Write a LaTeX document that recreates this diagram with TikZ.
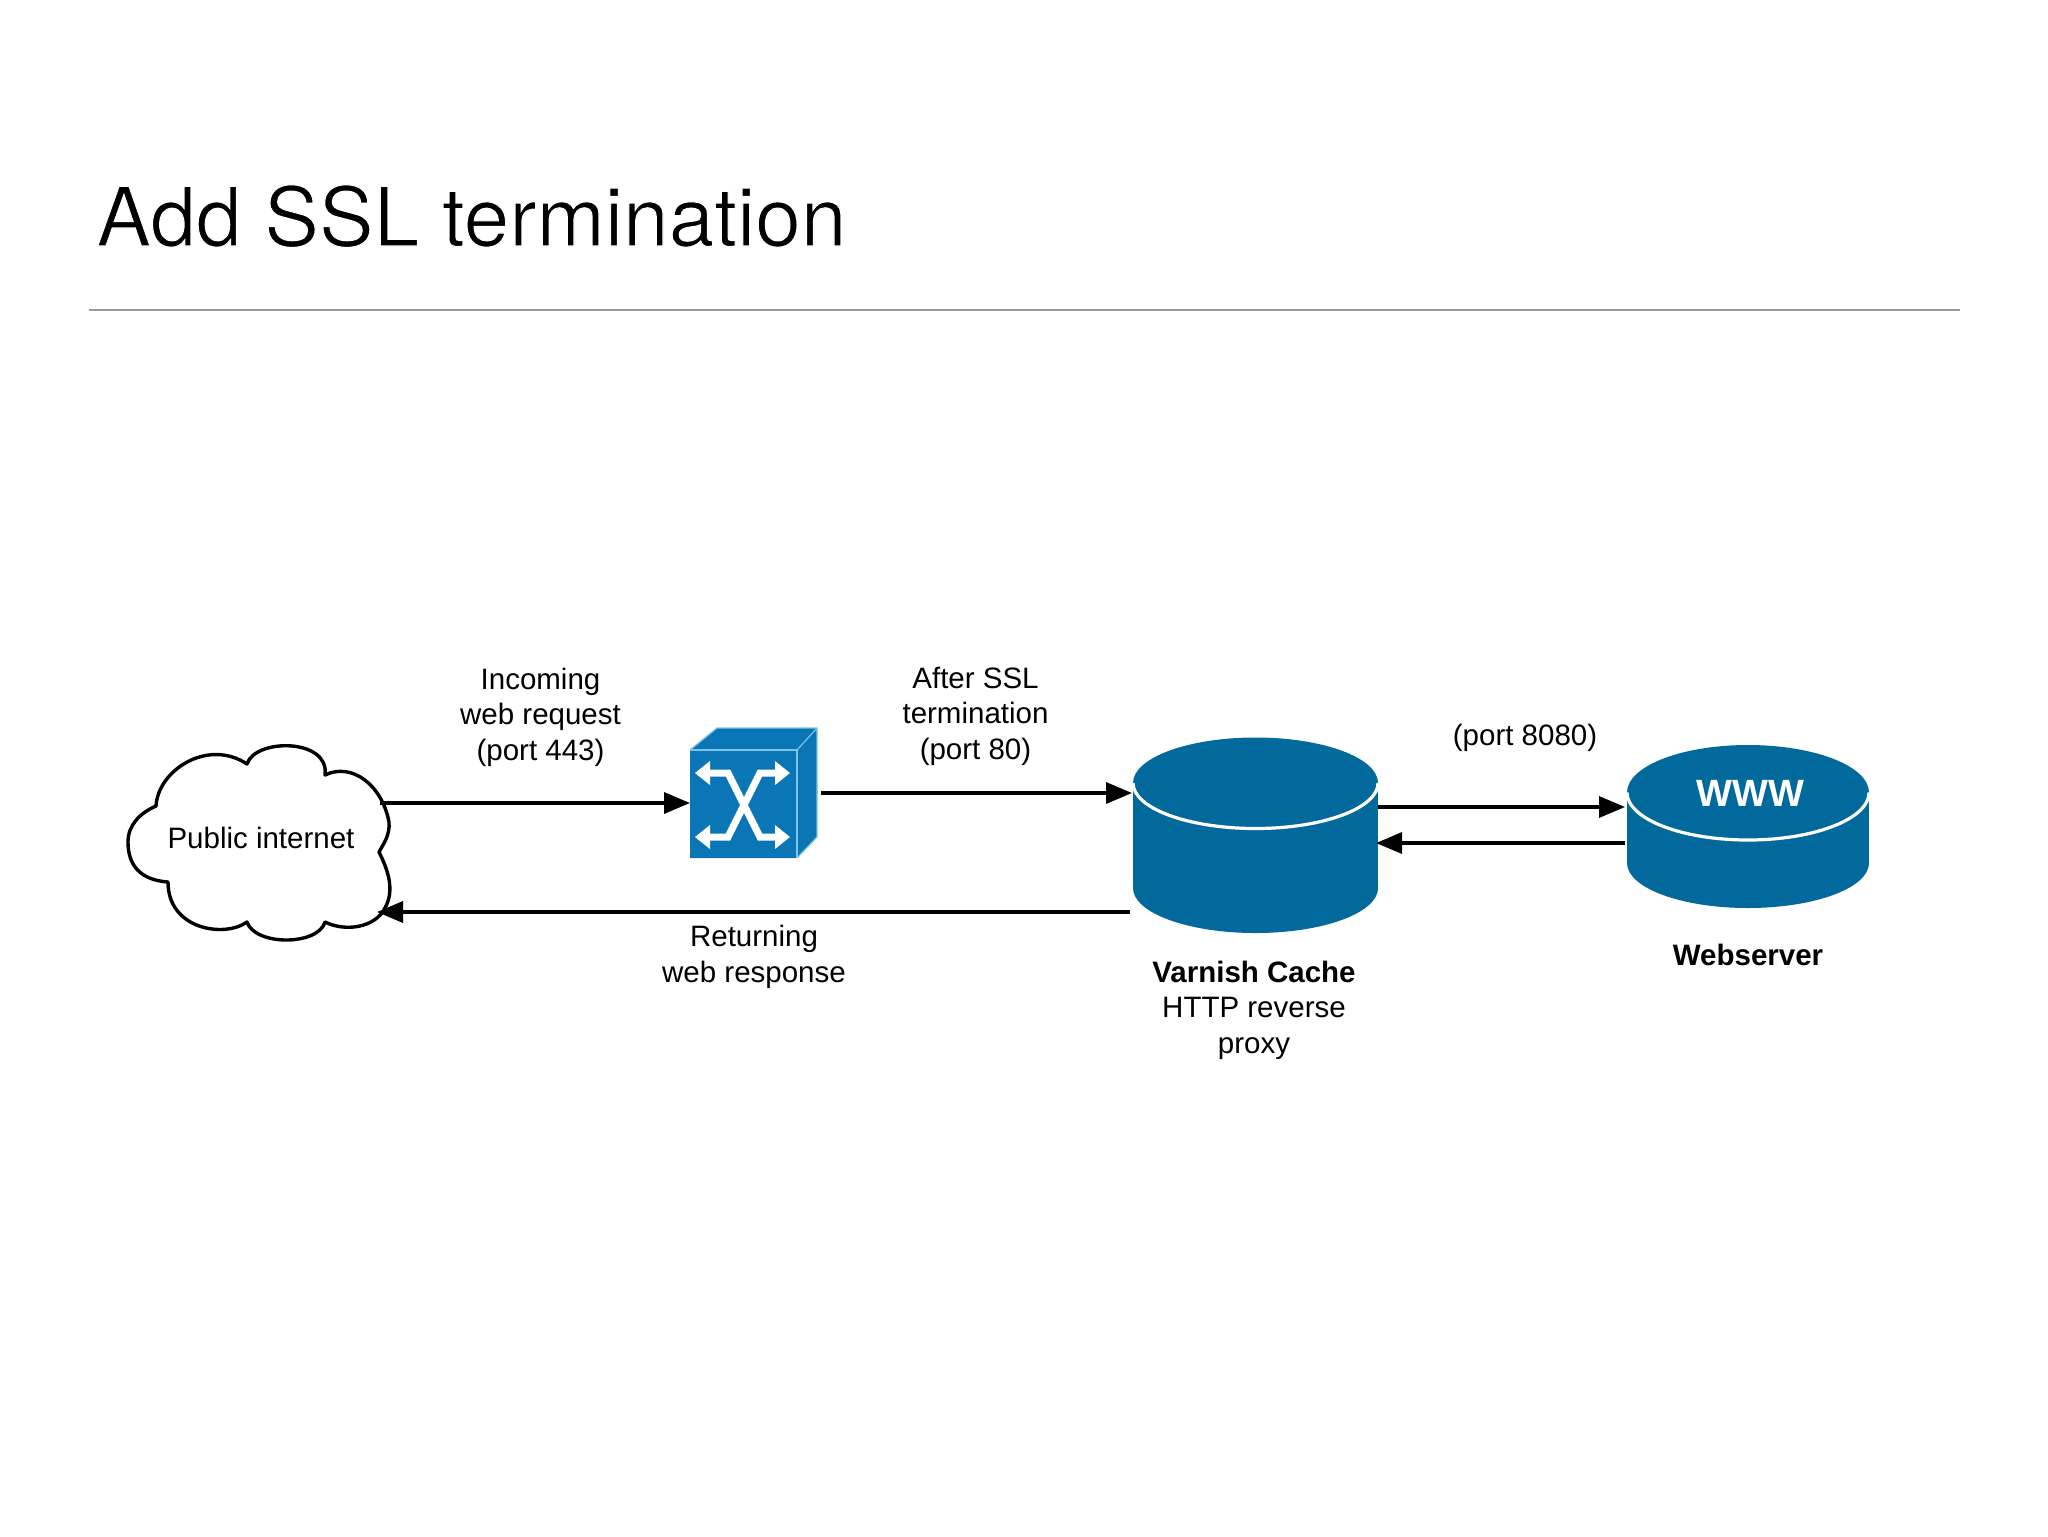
\documentclass[tikz,border=0pt]{standalone}
\usepackage{fontspec}
\setmainfont{Liberation Sans}
\newfontfamily\titlefont{TeX Gyre Heros}
\usetikzlibrary{arrows.meta}
\definecolor{cyl}{HTML}{01699B}
\definecolor{swc}{HTML}{0A76B6}
\definecolor{swl}{HTML}{7CC4EC}
\newcommand{\cylshape}[7]{% cx rx topy topry boty botry rimwidth
  \fill[cyl] (#1,#3) ellipse [x radius=#2,y radius=#4];
  \fill[cyl] (#1-#2,#3) rectangle (#1+#2,#5);
  \fill[cyl] (#1,#5) ellipse [x radius=#2,y radius=#6];
  \draw[white,line width=#7] (#1-#2,#3) arc [start angle=180,end angle=0,x radius=#2,y radius=#4];
}
\tikzset{
  lbl/.style={align=center,anchor=base,inner sep=0pt,font=\fontsize{14.75}{17.75}\selectfont,text=black},
  arr/.style={draw=black,line width=1.7pt,-{Triangle[length=13pt,width=10.5pt]}},
  hit/.style={inner sep=0pt,outer sep=0pt,draw=none,fill=none},
  swarrow/.style={white,line width=3.5pt,line join=miter},
}
\begin{document}
\begin{tikzpicture}[x=0.5pt,y=-0.5pt]
\useasboundingbox (0,0) rectangle (2048,1536);
\fill[white] (0,0) rectangle (2048,1536);

% title and rule
\node[anchor=base west,inner sep=0pt,font=\titlefont\fontsize{41}{48}\selectfont] (title) at (96,246) {\special{pdf:code q 2 Tr 1 1 1 RG 0.55 w}Add SSL termination\special{pdf:code Q}};
\coordinate (ruleL) at (89,310);
\coordinate (ruleR) at (1960,310);
\draw[color=black!40,line width=1pt] (ruleL) -- (ruleR);

% anchors
\node[hit,minimum width=130.5pt,minimum height=98.5pt] (cloud) at (258.5,843.5) {};
\node[hit,minimum width=63.5pt,minimum height=65pt] (switch) at (753.5,793) {};
\node[hit,minimum width=122.5pt,minimum height=98pt] (varnish) at (1255.5,835) {};
\node[hit,minimum width=121pt,minimum height=81.5pt] (web) at (1748,826.5) {};

% cloud
\draw[black,line width=1.7pt,line join=round,fill=white]
  (156,806) .. controls (158,770) and (208,738) .. (247,764)
  .. controls (255,738) and (330,738) .. (325,775)
  .. controls (352,762) and (382,785) .. (389,822)
  .. controls (390,835) and (384,843) .. (379,852)
  .. controls (388,870) and (395,890) .. (385,908)
  .. controls (375,928) and (345,932) .. (325,922)
  .. controls (318,946) and (255,946) .. (247,922)
  .. controls (225,938) and (168,930) .. (168,882)
  .. controls (140,880) and (128,865) .. (128,842)
  .. controls (128,825) and (140,813) .. (156,806) -- cycle;
\node[lbl] (cloudtext) at (261,848) {Public internet};

% switch cube
\fill[swc] (690,750) -- (717,728) -- (817,728) -- (817,837) -- (797,858) -- (690,858) -- cycle;
\draw[swl,line width=0.6pt] (690,750) -- (717,728) -- (817,728) -- (817,837) -- (797,858);
\draw[swl,line width=0.6pt] (690,750) -- (797,750) -- (797,858);
\draw[swl,line width=0.6pt] (797,750) -- (817,728);
\draw[swarrow] (708,773) -- (728,773) -- (760,837) -- (777,837);
\draw[swarrow] (708,837) -- (728,837) -- (760,773) -- (777,773);
\fill[white] (695,773) -- (710,761) -- (710,785) -- cycle;
\fill[white] (695,837) -- (710,825) -- (710,849) -- cycle;
\fill[white] (790,773) -- (775,761) -- (775,785) -- cycle;
\fill[white] (790,837) -- (775,825) -- (775,849) -- cycle;

% cylinders
\cylshape{1255.5}{122.5}{783}{45.5}{888}{45}{1.6pt}
\cylshape{1748}{121}{792.5}{47.5}{863}{45}{1.6pt}
\node[inner sep=0pt,anchor=base,font=\bfseries\fontsize{19}{22}\selectfont,text=white] (www) at (1750.5,806) {WWW};

% connectors
\draw[arr] ([xshift=-4.5pt,yshift=20.25pt]cloud.east) -- ([xshift=0pt,yshift=-5pt]switch.west);
\draw[arr] ([xshift=2pt]switch.east) -- ([xshift=-0.5pt,yshift=21pt]varnish.west);
\draw[arr] ([xshift=-1.5pt,yshift=-38.5pt]varnish.west) -- ([xshift=-6pt,yshift=-34.25pt]cloud.east);
\draw[arr] ([yshift=14pt]varnish.east) -- ([xshift=-1pt,yshift=9.75pt]web.west);
\draw[arr] ([xshift=-1pt,yshift=-8.25pt]web.west) -- ([xshift=-1pt,yshift=-4pt]varnish.east);

% labels
\node[lbl] (lin) at (540.5,760) {Incoming\\web request\\(port 443)};
\node[lbl] (lafter) at (975.5,759) {After SSL\\termination\\(port 80)};
\node[lbl] (lret) at (754,982) {Returning\\web response};
\node[lbl] (l8080) at (1525,745) {(port 8080)};
\node[lbl] (lvar) at (1254,1053) {\textbf{Varnish Cache}\\HTTP reverse\\proxy};
\node[lbl] (lweb) at (1748,965) {\textbf{Webserver}};
\end{tikzpicture}
\end{document}
